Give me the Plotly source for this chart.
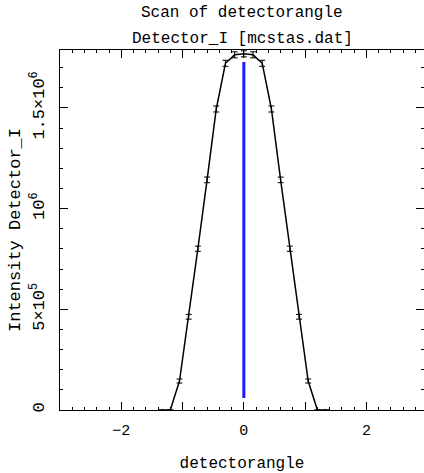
import plotly.graph_objects as go

# Scan data
angle = [-1.35, -1.2, -1.05, -0.9, -0.75, -0.6, -0.45, -0.3, -0.15, 0.0,
         0.15, 0.3, 0.45, 0.6, 0.75, 0.9, 1.05, 1.2, 1.35]
intensity = [0, 0, 1.44e5, 4.63e5, 8.01e5, 1.143e6, 1.495e6, 1.722e6, 1.764e6, 1.769e6,
             1.764e6, 1.722e6, 1.495e6, 1.143e6, 8.01e5, 4.63e5, 1.44e5, 0, 0]
errors = [0, 0, 1.0e4, 1.2e4, 1.3e4, 1.4e4, 1.5e4, 1.5e4, 1.5e4, 1.5e4,
          1.5e4, 1.5e4, 1.5e4, 1.4e4, 1.3e4, 1.2e4, 1.0e4, 0, 0]

# Vertical marker line
marker_x = [0.0, 0.0]
marker_y = [6.0e4, 1.729e6]

x_tickvals = [-3, -2, -1, 0, 1, 2]
x_ticktext = ["", "\u22122", "", "0", "", "2"]
y_tickvals = [0, 5e5, 1e6, 1.5e6]
y_ticktext = ["0", "5\u00d710<sup>5</sup>", "10<sup>6</sup>", "1.5\u00d710<sup>6</sup>"]

FONT = "Liberation Mono"

fig = go.Figure()
fig.add_trace(go.Scatter(
    x=angle, y=intensity, mode="lines",
    line=dict(color="black", width=1.5),
    error_y=dict(type="data", array=errors, color="black", thickness=1, width=3),
    showlegend=False,
))
fig.add_trace(go.Scatter(
    x=marker_x, y=marker_y, mode="lines",
    line=dict(color="#1a1aff", width=3),
    showlegend=False,
))

fig.update_layout(
    width=424, height=473,
    margin=dict(l=60, r=0, t=50, b=63),
    paper_bgcolor="white", plot_bgcolor="white",
    font=dict(family=FONT, color="black", size=14),
    annotations=[
        dict(text="Scan of detectorangle", xref="paper", yref="paper",
             x=0.5, y=1, yanchor="middle", yshift=37, showarrow=False,
             font=dict(family=FONT, size=16, color="black")),
        dict(text="Detector_I [mcstas.dat]", xref="paper", yref="paper",
             x=0.5, y=1, yanchor="middle", yshift=11, showarrow=False,
             font=dict(family=FONT, size=16, color="black")),
    ],
)

fig.update_xaxes(
    range=[-3, 2.94],
    tickmode="array", tickvals=x_tickvals, ticktext=x_ticktext,
    ticks="inside", ticklen=8, tickcolor="black", tickwidth=1,
    minor=dict(ticks="inside", dtick=0.2, ticklen=3, tickcolor="black"),
    showline=True, linecolor="black", linewidth=1, mirror="ticks",
    showgrid=False, zeroline=False,
    tickfont=dict(family=FONT, size=15, color="black"),
    ticklabelstandoff=6,
    title=dict(text="detectorangle", standoff=22,
               font=dict(family=FONT, size=16, color="black")),
)
fig.update_yaxes(
    range=[0, 1.788e6],
    tickmode="array", tickvals=y_tickvals, ticktext=y_ticktext,
    tickangle=-90,
    ticks="inside", ticklen=8, tickcolor="black", tickwidth=1,
    minor=dict(ticks="inside", dtick=1e5, ticklen=3, tickcolor="black"),
    showline=True, linecolor="black", linewidth=1, mirror="ticks",
    showgrid=False, zeroline=False,
    tickfont=dict(family=FONT, size=17, color="black"),
    ticklabelstandoff=8,
    title=dict(text="Intensity Detector_I", standoff=2,
               font=dict(family=FONT, size=17, color="black")),
)

fig.write_html("out.html")
